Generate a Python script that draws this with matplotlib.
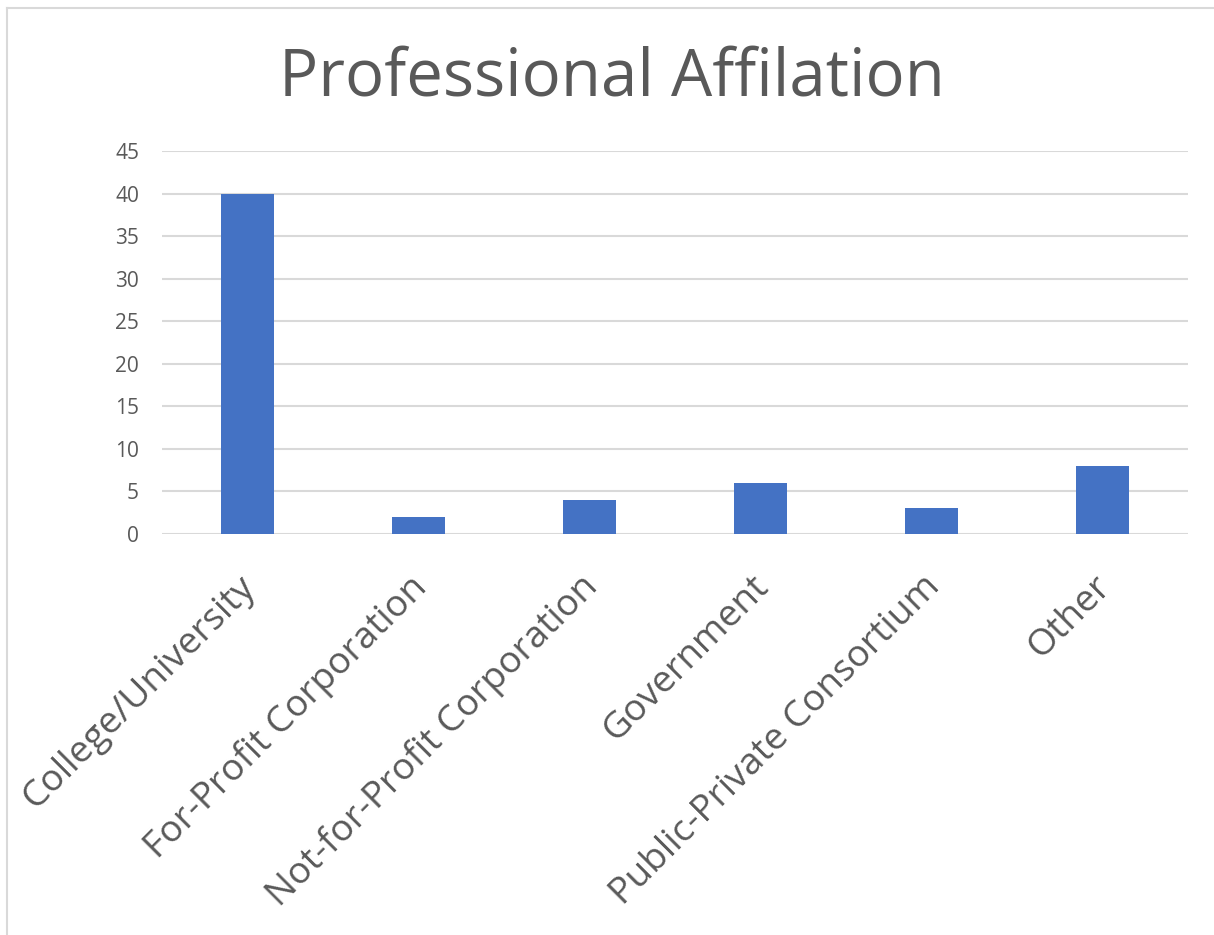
import matplotlib
matplotlib.use("Agg")
import matplotlib.pyplot as plt
from matplotlib.lines import Line2D

categories = ["College/University", "For-Profit Corporation", "Not-for-Profit Corporation",
              "Government", "Public-Private Consortium", "Other"]
counts = [40, 2, 4, 6, 3, 8]
y_ticks = [0, 5, 10, 15, 20, 25, 30, 35, 40, 45]

W, H = 1214, 935
fig = plt.figure(figsize=(W / 100, H / 100), dpi=100)
plt.rcParams["font.family"] = ["Open Sans", "DejaVu Sans"]

text_col = "#595959"
grid_col = "#D9D9D9"
bar_col = "#4472C4"

# chart frame: left and top edges
fx, fy = 6.5 / W, 1 - 7.5 / H
fig.lines.append(Line2D([fx, fx], [0, fy], transform=fig.transFigure, color=grid_col, linewidth=1.5))
fig.lines.append(Line2D([fx, 1], [fy, fy], transform=fig.transFigure, color=grid_col, linewidth=1.5))

ax = fig.add_axes([162 / W, 1 - 534 / H, (1188 - 162) / W, (534 - 151) / H])
x = list(range(len(categories)))
ax.bar(x, counts, width=0.31, color=bar_col, zorder=3)
ax.set_xlim(-0.5, len(categories) - 0.5)
ax.set_ylim(0, 45)
ax.set_yticks(y_ticks)
ax.yaxis.grid(True, color=grid_col, linewidth=1.5, zorder=0)
for s in ax.spines.values():
    s.set_visible(False)
ax.tick_params(axis="y", length=0, pad=16.5, labelsize=15, labelcolor=text_col)
ax.tick_params(axis="x", length=0)
ax.set_xticks(x)
ax.set_xticklabels([])
for xi, lab in zip(x, categories):
    ax.text(xi + 0.02, -5.6, lab, rotation=45, rotation_mode="anchor", ha="right", va="center",
            fontsize=26.8, color=text_col)

fig.text(612 / W, 1 - 78 / H, "Professional Affilation", ha="center", va="center",
         fontsize=47, color=text_col)

fig.savefig("out.png", dpi=100)
